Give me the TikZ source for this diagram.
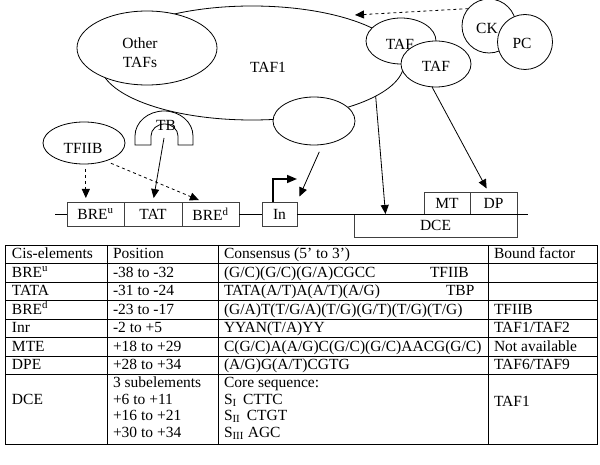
\documentclass[tikz,border=0pt]{standalone}
\usepackage{fontspec}
\setmainfont{Liberation Serif}
\usetikzlibrary{arrows.meta,shapes.geometric}
\begin{document}
\begin{tikzpicture}[x=1pt,y=-1pt,line width=0.8pt,
  every node/.style={inner sep=0pt,outer sep=0pt},
  dlbl/.style={font=\fontsize{15.5}{19}\selectfont},
  ell/.style={draw,fill=white,ellipse},
  pbox/.style={draw=black!75,rectangle,font=\fontsize{15.5}{17}\selectfont},
  tx/.style={font=\fontsize{15.5}{18}\selectfont,anchor=base west},
  arr/.style={-{Triangle[length=9pt,width=8pt]}},
  tline/.style={line width=0.7pt}]
\useasboundingbox (0,0) rectangle (600,465);

% protein complex
\node[ell,minimum width=304pt,minimum height=114pt] (taf1) at (252,63) {};
\node[dlbl] (taf1t) at (268,67) {TAF1};
\node[ell,minimum width=140pt,minimum height=74pt] (oth) at (147,48) {};
\node[dlbl,align=center] (otht) at (140,53) {Other\\TAFs};
\node[ell,minimum width=82pt,minimum height=48pt] (sm) at (314,121) {};
\node[ell,minimum width=70pt,minimum height=46pt] (tafa) at (401,41) {};
\node[dlbl] (tafat) at (400,44) {TAF};
\node[ell,minimum width=70pt,minimum height=46pt] (tafb) at (436,64) {};
\node[dlbl] (tafbt) at (436,66) {TAF};
\node[draw,fill=white,circle,minimum size=54pt] (ck) at (489,26) {};
\node[dlbl] (ckt) at (487,28) {CK};
\node[draw,fill=white,circle,minimum size=55pt] (pc) at (525,42) {};
\node[dlbl] (pct) at (522,43) {PC};

% TB arch
\draw[fill=white] (135,145) -- (135,136)
  arc[start angle=180,end angle=360,x radius=29,y radius=25]
  -- (193,145) -- (178,145) -- (178,136)
  arc[start angle=0,end angle=-180,x radius=13.5,y radius=12]
  -- (151,145) -- cycle;
\node[dlbl] (tbt) at (166,125) {TB};
\coordinate (tbc) at (164,138);

% TFIIB
\node[ell,minimum width=82pt,minimum height=42pt] (tfiib) at (84,143) {};
\node[dlbl] (tfiibt) at (83,148) {TFIIB};

% promoter
\coordinate (l0) at (55,214);
\coordinate (l1) at (528,214);
\node[pbox,minimum width=57pt,minimum height=24pt] (breu) at (95.5,214) {BRE\textsuperscript{u}};
\node[pbox,minimum width=58pt,minimum height=24pt] (tat) at (153,214) {TAT};
\node[pbox,minimum width=57pt,minimum height=24pt] (bred) at (210.5,214) {BRE\textsuperscript{d}};
\node[pbox,minimum width=35pt,minimum height=24pt] (inb) at (279.5,214) {In};
\node[pbox,minimum width=163pt,minimum height=23pt] (dce) at (435.5,225.5) {DCE};
\node[pbox,minimum width=46pt,minimum height=22pt] (mt) at (447,203) {MT};
\node[pbox,minimum width=47pt,minimum height=22pt] (dp) at (493.5,203) {DP};
\draw (l0) -- (breu.west);
\draw (bred.east) -- (inb.west);
\draw (inb.east) -- (l1);

% arrows
\coordinate (ckend) at (355,15);
\draw[dashed,arr] (ck.140) -- (ckend);
\draw[dashed,arr,shorten <=5pt,shorten >=4pt] (tfiib.-85) -- (tfiib.-85 |- breu.north);
\draw[dashed,arr,shorten <=6pt,shorten >=5pt] (tfiib.-40) -- ([xshift=-7pt]bred.north);
\draw[arr,shorten >=4pt] (tbc) -- (tat.north);
\draw[arr,shorten <=8pt,shorten >=6pt] (sm.-70) -- (inb.north east);
\draw[arr] (taf1.-15) -- ([xshift=-50pt]dce.north);
\draw[arr,shorten >=4pt] (tafb.-100) -- ([xshift=-5pt]dp.north);
\draw[line width=1.6pt,-{Triangle[length=10pt,width=8pt]}] ([xshift=-6.5pt]inb.north) -- ++(0,-23) -- ++(24,0);

% table
\draw[tline] (5,245) rectangle (597,444);
\foreach \yy in {263.5,282,300.5,319,337.5,356,374.5} \draw[tline] (5,\yy) -- (597,\yy);
\foreach \xx in {107,218,488} \draw[tline] (\xx,245) -- (\xx,444);

\node[tx] (h1) at (12,258.5) {Cis-elements};
\node[tx] (h2) at (113,258.5) {Position};
\node[tx] (h3) at (224,258.5) {Consensus (5’ to 3’)};
\node[tx] (h4) at (494,258.5) {Bound factor};

\node[tx] (a1) at (12,277) {BRE\textsuperscript{u}};
\node[tx] (a2) at (113,277) {-38 to -32};
\node[tx] (a3) at (224,277) {(G/C)(G/C)(G/A)CGCC};
\node[tx] (a3b) at (430,277) {TFIIB};

\node[tx] (b1) at (12,295.5) {TATA};
\node[tx] (b2) at (113,295.5) {-31 to -24};
\node[tx] (b3) at (224,295.5) {TATA(A/T)A(A/T)(A/G)};
\node[tx] (b3b) at (446,295.5) {TBP};

\node[tx] (c1) at (12,314) {BRE\textsuperscript{d}};
\node[tx] (c2) at (113,314) {-23 to -17};
\node[tx] (c3) at (224,314) {(G/A)T(T/G/A)(T/G)(G/T)(T/G)(T/G)};
\node[tx] (c4) at (494,314) {TFIIB};

\node[tx] (d1) at (12,332.5) {Inr};
\node[tx] (d2) at (113,332.5) {-2 to +5};
\node[tx] (d3) at (224,332.5) {YYAN(T/A)YY};
\node[tx] (d4) at (494,332.5) {TAF1/TAF2};

\node[tx] (e1) at (12,351) {MTE};
\node[tx] (e2) at (113,351) {+18 to +29};
\node[tx] (e3) at (224,351) {C(G/C)A(A/G)C(G/C)(G/C)AACG(G/C)};
\node[tx] (e4) at (494,351) {Not available};

\node[tx] (f1) at (12,369.5) {DPE};
\node[tx] (f2) at (113,369.5) {+28 to +34};
\node[tx] (f3) at (224,369.5) {(A/G)G(A/T)CGTG};
\node[tx] (f4) at (494,369.5) {TAF6/TAF9};

\node[tx] (g1) at (12,404) {DCE};
\node[tx] (g2a) at (113,387.5) {3 subelements};
\node[tx] (g2b) at (113,404) {+6 to +11};
\node[tx] (g2c) at (113,420.5) {+16 to +21};
\node[tx] (g2d) at (113,437) {+30 to +34};
\node[tx] (g3a) at (224,387.5) {Core sequence:};
\node[tx] (g3b) at (224,404) {S\textsubscript{I}\, CTTC};
\node[tx] (g3c) at (224,420.5) {S\textsubscript{II}\, CTGT};
\node[tx] (g3d) at (224,437) {S\textsubscript{III} AGC};
\node[tx] (g4) at (494,406) {TAF1};
\end{tikzpicture}
\end{document}
